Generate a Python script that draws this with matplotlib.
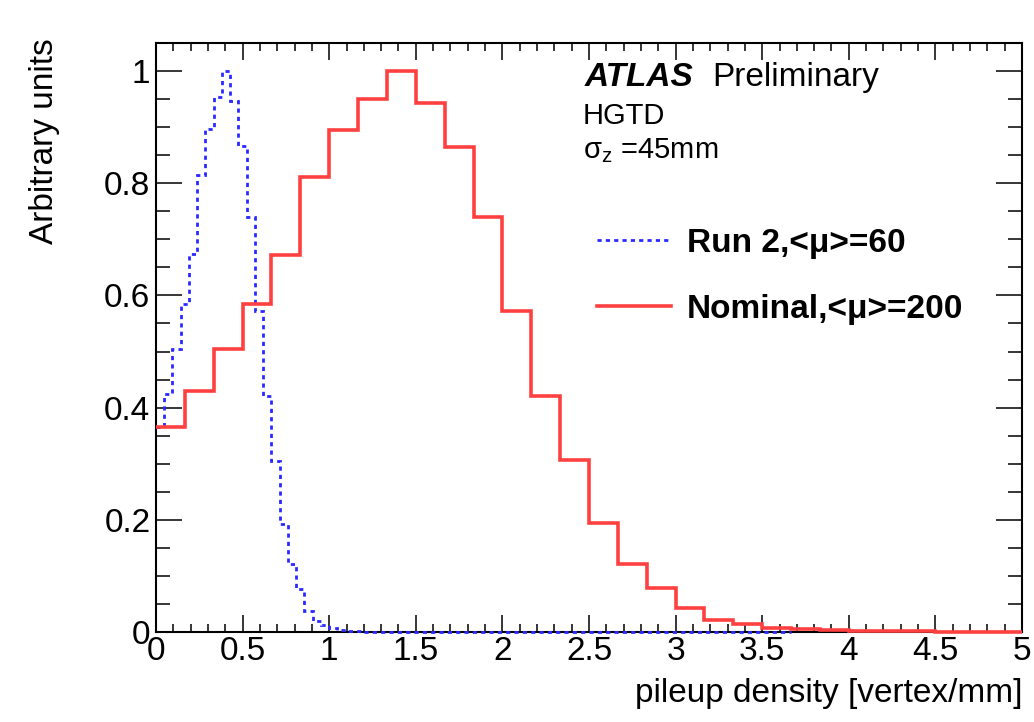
import matplotlib
matplotlib.use('Agg')
import matplotlib.pyplot as plt
import numpy as np
from matplotlib.lines import Line2D
from matplotlib.ticker import MultipleLocator, FormatStrFormatter

plt.rcParams['font.family'] = ['Liberation Sans', 'DejaVu Sans']
plt.rcParams['mathtext.fontset'] = 'custom'
plt.rcParams['mathtext.rm'] = 'Liberation Sans'
plt.rcParams['mathtext.it'] = 'Liberation Sans:italic'
plt.rcParams['mathtext.sf'] = 'Liberation Sans'

# ---- data ----
# Run 2, <mu>=60 : bin width 1/21 vertex/mm
run2_nbins = 77
run2_binwidth = 1.0 / 21
run2_values = [0.366, 0.425, 0.505, 0.584, 0.673, 0.814, 0.896, 0.954, 1.000, 0.946,
               0.866, 0.739, 0.573, 0.420, 0.304, 0.193, 0.121, 0.077, 0.038, 0.020,
               0.0125, 0.007, 0.004, 0.002, 0.001] + [0.0] * 52
# Nominal, <mu>=200 : bin width 1/6 vertex/mm
nom_nbins = 30
nom_binwidth = 1.0 / 6
nom_values = [0.365, 0.429, 0.504, 0.585, 0.672, 0.812, 0.895, 0.950, 1.000, 0.943,
              0.865, 0.740, 0.572, 0.420, 0.307, 0.195, 0.122, 0.079, 0.043, 0.021,
              0.014, 0.008, 0.005, 0.003, 0.002, 0.001, 0.001, 0.0005, 0.0003, 0.0002]

labels = ['Run 2,<\u03bc>=60', 'Nominal,<\u03bc>=200']
xticks = [0, 0.5, 1, 1.5, 2, 2.5, 3, 3.5, 4, 4.5, 5]
yticks = [0, 0.2, 0.4, 0.6, 0.8, 1.0]

BLUE = '#2a2aff'
RED = '#ff4040'

W, H = 1034, 722
fig = plt.figure(figsize=(W / 100, H / 100), dpi=100)
ax = fig.add_axes([156 / W, 1 - 632 / H, (1022 - 156) / W, (632 - 43) / H])

run2_edges = np.arange(run2_nbins + 1) * run2_binwidth
nom_edges = np.arange(nom_nbins + 1) * nom_binwidth

ax.stairs(run2_values, run2_edges, baseline=None, color=BLUE, lw=2.0,
          linestyle=(0, (1.5, 1.5)), zorder=3, clip_on=False)
ax.stairs(nom_values, nom_edges, baseline=None, color=RED, lw=2.6,
          zorder=4, clip_on=False)

ax.set_xlim(0, 5)
ax.set_ylim(0, 1.05)
ax.set_xticks(xticks)
ax.set_yticks(yticks)
ax.xaxis.set_minor_locator(MultipleLocator(0.1))
ax.yaxis.set_minor_locator(MultipleLocator(0.05))
ax.xaxis.set_major_formatter(FormatStrFormatter('%g'))
ax.yaxis.set_major_formatter(FormatStrFormatter('%g'))

ax.tick_params(which='both', direction='in', top=True, right=True, colors='black',
               width=1.1, labelsize=24)
ax.tick_params(axis='y', which='major', length=18.5, pad=4)
ax.tick_params(axis='y', which='minor', length=10)
ax.tick_params(axis='x', which='major', length=12, pad=3)
ax.tick_params(axis='x', which='minor', length=6)
for s in ax.spines.values():
    s.set_linewidth(1.5)

ax.set_xlabel('pileup density [vertex/mm]', fontsize=24)
ax.xaxis.label.set(ha='right', va='top')
ax.xaxis.set_label_coords(1.0, (632 - 678) / 589)
ax.set_ylabel('Arbitrary units', fontsize=24)
ax.yaxis.label.set(ha='center', va='top', rotation_mode='default')
ax.yaxis.set_label_coords((45 - 156) / 866, (632 - 38) / 589)

# texts
def fx(px):
    return px / W

def fy(py):
    return 1 - py / H

fig.text(fx(585), fy(86), 'ATLAS', fontsize=24, weight='bold', style='italic', va='baseline')
fig.text(fx(712), fy(86), 'Preliminary', fontsize=24, va='baseline')
fig.text(fx(583), fy(124), 'HGTD', fontsize=21, va='baseline')
fig.text(fx(583), fy(158), r'$\mathrm{\sigma_{z}}$ =45mm', fontsize=21, va='baseline')

handles = [Line2D([], [], color=BLUE, lw=2.0, linestyle=(0, (1.5, 1.5))),
           Line2D([], [], color=RED, lw=2.6)]
ax.legend(handles, labels, loc='upper left', bbox_to_anchor=(fx(597), fy(228)),
          bbox_transform=fig.transFigure, frameon=False,
          prop={'weight': 'bold', 'size': 24}, handlelength=2.22,
          handletextpad=0.47, labelspacing=1.05, borderpad=0, borderaxespad=0)

fig.savefig('out.png', dpi=100)
